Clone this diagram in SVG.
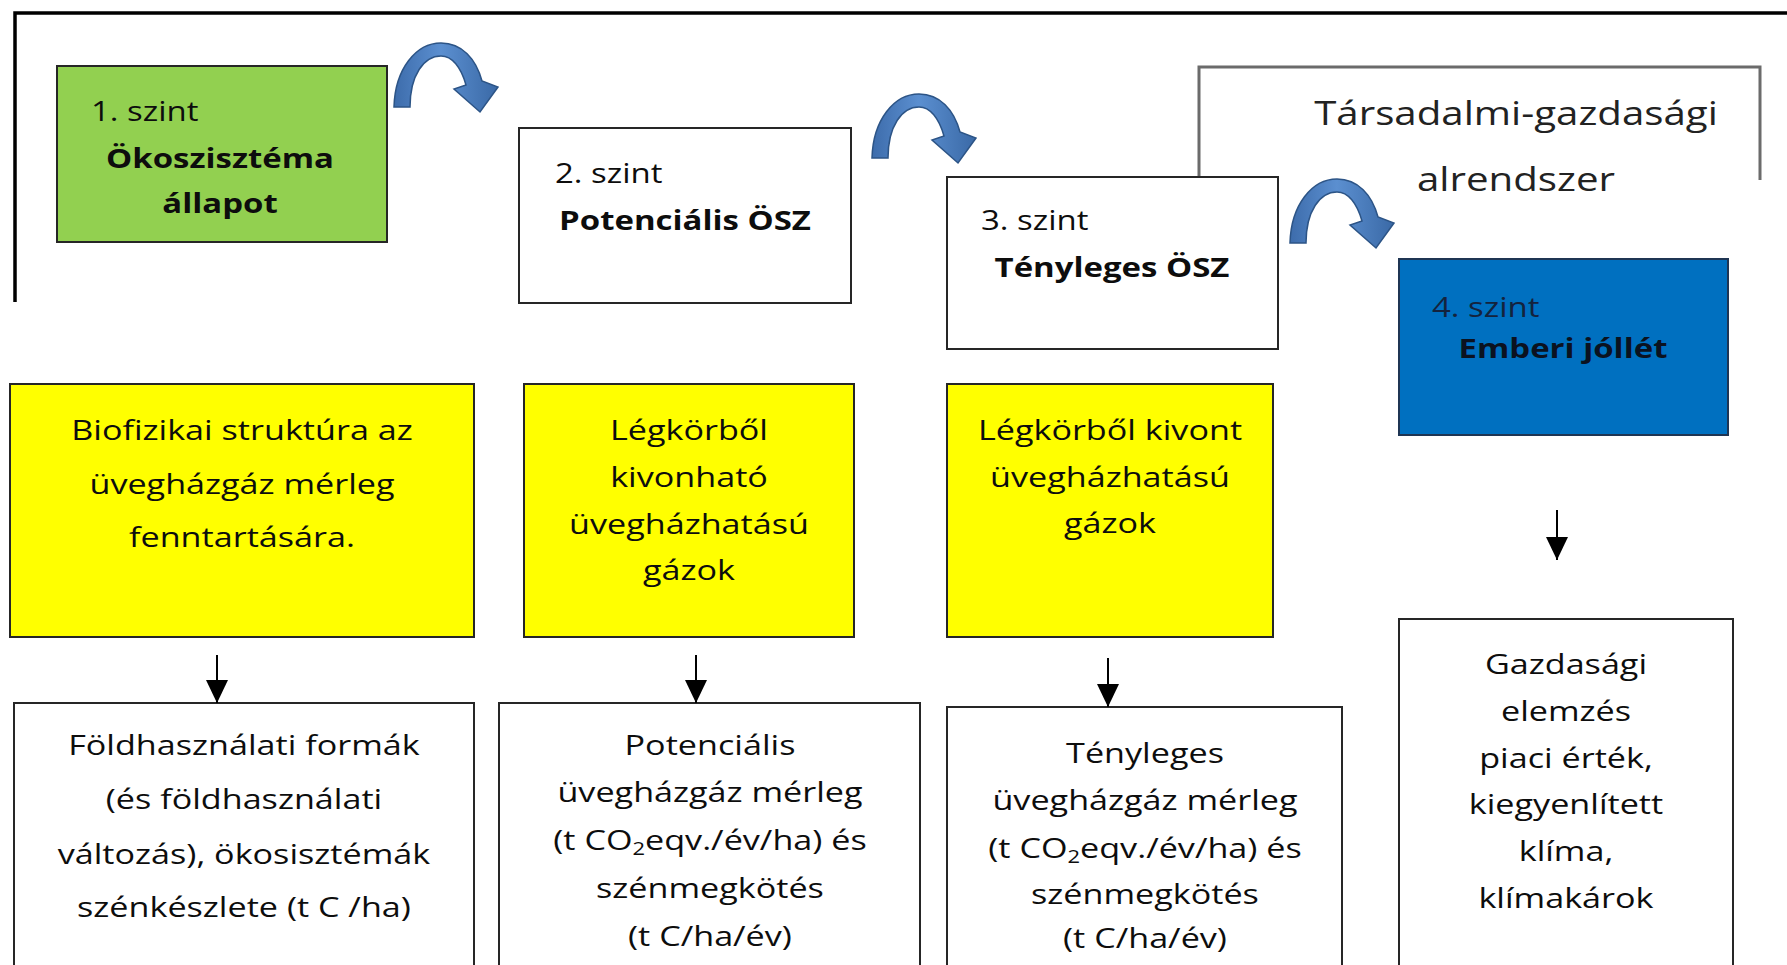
<svg xmlns="http://www.w3.org/2000/svg" width="1787" height="965" viewBox="0 0 1787 965">
<defs>
<style>
text { font-family: "Open Sans", "Noto Sans", "DejaVu Sans", sans-serif; fill: #0d0d0d; transform-box: fill-box; transform-origin: center; transform: scaleX(1.22); }
.b { font-size: 28px; text-anchor: middle; }
.lvl { font-size: 27px; transform-origin: left center; }
.bold { font-size: 27px; font-weight: 700; text-anchor: middle; }
.soc { font-size: 33px; text-anchor: middle; fill: #222; }
.sub { font-size: 18px; }
.box { stroke: #262626; stroke-width: 2; }
.white { fill: #fff; }
.yellow { fill: #ffff00; }
.frame { fill: none; stroke: #000; stroke-width: 3.5; }
.sframe { fill: none; stroke: #6b6b6b; stroke-width: 3; }
.down { stroke: #000; stroke-width: 2; fill: none; }
.curve { fill: url(#cg); stroke: #2c5486; stroke-width: 1.5; }
</style>
<linearGradient id="cg" x1="0" y1="0" x2="1" y2="0">
<stop offset="0" stop-color="#3d6cab"/>
<stop offset="0.45" stop-color="#5b8fd0"/>
<stop offset="1" stop-color="#3a69a6"/>
</linearGradient>
<marker id="ah" markerUnits="userSpaceOnUse" markerWidth="23" markerHeight="22" viewBox="0 0 23 22" refX="23" refY="11" orient="auto">
<path d="M0,0 L23,11 L0,22 Z" fill="#000"/>
</marker>
<path id="curv" class="curve" d="M0,0 C1,-38 22,-64 47,-64 C68,-64 82,-48 88,-26 L104,-20 L86,5 L60,-18 L72,-22 C67,-40 58,-51 47,-51 C30,-51 16,-32 16,0 Z"/>
</defs>
<rect width="1787" height="965" fill="#fff"/>

<g id="frames">
<path class="frame" d="M15,302 L15,13 L1787,13"/>
<path class="sframe" d="M1199,177 L1199,67 L1760,67 L1760,180"/>
</g>

<g id="social-label">
<text class="soc" x="1516" y="125">Társadalmi-gazdasági</text>
<text class="soc" x="1516" y="191">alrendszer</text>
</g>

<g id="level1">
<rect class="box" x="57" y="66" width="330" height="176" fill="#92d050"/>
<text class="lvl" x="91" y="121">1. szint</text>
<text class="bold" x="220" y="168">Ökoszisztéma</text>
<text class="bold" x="220" y="213">állapot</text>
</g>

<g id="level2">
<rect class="box white" x="519" y="128" width="332" height="175"/>
<text class="lvl" x="555" y="183">2. szint</text>
<text class="bold" x="685" y="230">Potenciális ÖSZ</text>
</g>

<g id="level3">
<rect class="box white" x="947" y="177" width="331" height="172"/>
<text class="lvl" x="981" y="230">3. szint</text>
<text class="bold" x="1112" y="277">Tényleges ÖSZ</text>
</g>

<g id="level4">
<rect x="1399" y="259" width="329" height="176" fill="#0070c0" stroke="#1f3553" stroke-width="2"/>
<text class="lvl" x="1432" y="317" style="fill:#14233d">4. szint</text>
<text class="bold" x="1563" y="358" style="fill:#0b1220">Emberi jóllét</text>
</g>

<g id="yellow1">
<rect class="box yellow" x="10" y="384" width="464" height="253"/>
<text class="b" x="242" y="440">Biofizikai struktúra az</text>
<text class="b" x="242" y="494">üvegházgáz mérleg</text>
<text class="b" x="242" y="547">fenntartására.</text>
</g>

<g id="yellow2">
<rect class="box yellow" x="524" y="384" width="330" height="253"/>
<text class="b" x="689" y="440">Légkörből</text>
<text class="b" x="689" y="487">kivonható</text>
<text class="b" x="689" y="534">üvegházhatású</text>
<text class="b" x="689" y="580">gázok</text>
</g>

<g id="yellow3">
<rect class="box yellow" x="947" y="384" width="326" height="253"/>
<text class="b" x="1110" y="440">Légkörből kivont</text>
<text class="b" x="1110" y="487">üvegházhatású</text>
<text class="b" x="1110" y="533">gázok</text>
</g>

<g id="bottom1">
<rect class="box white" x="14" y="703" width="460" height="290"/>
<text class="b" x="244" y="755">Földhasználati formák</text>
<text class="b" x="244" y="809">(és földhasználati</text>
<text class="b" x="244" y="864">változás), ökosisztémák</text>
<text class="b" x="244" y="917">szénkészlete (t C /ha)</text>
</g>

<g id="bottom2">
<rect class="box white" x="499" y="703" width="421" height="290"/>
<text class="b" x="710" y="755">Potenciális</text>
<text class="b" x="710" y="802">üvegházgáz mérleg</text>
<text class="b" x="710" y="850">(t CO<tspan class="sub" dy="5">2</tspan><tspan dy="-5">eqv./év/ha) és</tspan></text>
<text class="b" x="710" y="898">szénmegkötés</text>
<text class="b" x="710" y="946">(t C/ha/év)</text>
</g>

<g id="bottom3">
<rect class="box white" x="947" y="707" width="395" height="290"/>
<text class="b" x="1145" y="763">Tényleges</text>
<text class="b" x="1145" y="810">üvegházgáz mérleg</text>
<text class="b" x="1145" y="858">(t CO<tspan class="sub" dy="5">2</tspan><tspan dy="-5">eqv./év/ha) és</tspan></text>
<text class="b" x="1145" y="904">szénmegkötés</text>
<text class="b" x="1145" y="948">(t C/ha/év)</text>
</g>

<g id="economic">
<rect class="box white" x="1399" y="619" width="334" height="380"/>
<text class="b" x="1566" y="674">Gazdasági</text>
<text class="b" x="1566" y="721">elemzés</text>
<text class="b" x="1566" y="768">piaci érték,</text>
<text class="b" x="1566" y="814">kiegyenlített</text>
<text class="b" x="1566" y="861">klíma,</text>
<text class="b" x="1566" y="908">klímakárok</text>
</g>

<g id="connectors">
<use href="#curv" x="394" y="107"/>
<use href="#curv" x="872" y="158"/>
<use href="#curv" x="1290" y="243"/>
<line class="down" x1="217" y1="655" x2="217" y2="703" marker-end="url(#ah)"/>
<line class="down" x1="696" y1="655" x2="696" y2="703" marker-end="url(#ah)"/>
<line class="down" x1="1108" y1="658" x2="1108" y2="707" marker-end="url(#ah)"/>
<line class="down" x1="1557" y1="510" x2="1557" y2="560" marker-end="url(#ah)"/>
</g>
</svg>
